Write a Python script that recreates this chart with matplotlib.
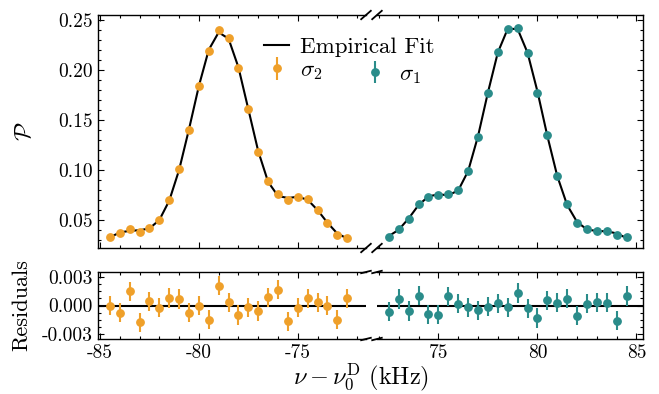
import numpy as np
import matplotlib
matplotlib.use("Agg")
import matplotlib.pyplot as plt
from matplotlib.ticker import MultipleLocator, FormatStrFormatter

plt.rcParams['font.family'] = 'serif'
plt.rcParams['font.serif'] = ['cmr10']
plt.rcParams['mathtext.fontset'] = 'cm'
plt.rcParams['axes.unicode_minus'] = False
plt.rcParams['axes.formatter.use_mathtext'] = True

# ---- data ----
freq_neg = [-84.5, -84.0, -83.5, -83.0, -82.5, -82.0, -81.5, -81.0, -80.5, -80.0,
            -79.5, -79.0, -78.5, -78.0, -77.5, -77.0, -76.5, -76.0, -75.5, -75.0,
            -74.5, -74.0, -73.5, -73.0, -72.5]
p_sigma2 = [0.0327, 0.0367, 0.0407, 0.0380, 0.0420, 0.0497, 0.0700, 0.1007, 0.1400, 0.1840,
            0.2187, 0.2397, 0.2317, 0.2017, 0.1607, 0.1183, 0.0890, 0.0757, 0.0703, 0.0730,
            0.0710, 0.0603, 0.0473, 0.0350, 0.0323]
res_sigma2 = [0.0000, -0.00075, 0.00147, -0.00174, 0.00044, -0.00024, 0.00078, 0.00068, -0.00075, 0.0000,
              -0.0015, 0.00205, 0.00034, -0.00099, -0.00017, -0.00058, 0.00085, 0.00164, -0.00167, -0.00024,
              0.00075, 0.00034, 0.0000, -0.00147, 0.00075]

freq_pos = [72.5, 73.0, 73.5, 74.0, 74.5, 75.0, 75.5, 76.0, 76.5, 77.0,
            77.5, 78.0, 78.5, 79.0, 79.5, 80.0, 80.5, 81.0, 81.5, 82.0,
            82.5, 83.0, 83.5, 84.0, 84.5]
p_sigma1 = [0.0333, 0.0410, 0.0510, 0.0660, 0.0727, 0.0747, 0.0757, 0.0797, 0.0987, 0.1333,
            0.1773, 0.2177, 0.2410, 0.2423, 0.2170, 0.1773, 0.1347, 0.0943, 0.0657, 0.0470,
            0.0407, 0.0393, 0.0390, 0.0350, 0.0330]
res_sigma1 = [-0.00065, 0.00068, -0.00058, 0.00102, -0.00092, -0.00095, 0.00095, 0.00017, -0.00017, -0.00051,
              -0.00014, 0.00024, -0.0002, 0.0013, -0.00031, -0.0013, 0.00055, 0.00027, 0.00072, -0.00106,
              0.00017, 0.00034, 0.00027, -0.0016, 0.00099]
err = 0.001

fit_sigma2 = np.array(p_sigma2) - np.array(res_sigma2)
fit_sigma1 = np.array(p_sigma1) - np.array(res_sigma1)

c_orange = '#EFA02A'
c_teal = '#2A8C8A'

W, H = 659, 394
fig = plt.figure(figsize=(W / 100, H / 100), dpi=100)

def rect(x0, x1, y0, y1):
    return [x0 / W, 1 - y1 / H, (x1 - x0) / W, (y1 - y0) / H]

axTL = fig.add_axes(rect(98, 366, 15, 248))
axTR = fig.add_axes(rect(377, 643, 15, 248))
axBL = fig.add_axes(rect(98, 366, 272, 339))
axBR = fig.add_axes(rect(377, 643, 272, 339))

ms = 5.3
ekw = dict(fmt='o', ms=ms, elinewidth=1.5, capsize=0, zorder=3)

lfit, = axTL.plot(freq_neg, fit_sigma2, color='k', lw=1.5, zorder=2)
axTR.plot(freq_pos, fit_sigma1, color='k', lw=1.5, zorder=2)
e2 = axTL.errorbar(freq_neg, p_sigma2, yerr=err, color=c_orange, **ekw)
e1 = axTR.errorbar(freq_pos, p_sigma1, yerr=err, color=c_teal, **ekw)

axBL.axhline(0, color='k', lw=1.5, zorder=2)
axBR.axhline(0, color='k', lw=1.5, zorder=2)
axBL.errorbar(freq_neg, res_sigma2, yerr=err, color=c_orange, **ekw)
axBR.errorbar(freq_pos, res_sigma1, yerr=err, color=c_teal, **ekw)

xl_left = (-85.1, -71.55)
xl_right = (71.9, 85.33)
for ax in (axTL, axBL):
    ax.set_xlim(*xl_left)
for ax in (axTR, axBR):
    ax.set_xlim(*xl_right)
for ax in (axTL, axTR):
    ax.set_ylim(0.022, 0.255)
    ax.yaxis.set_major_locator(MultipleLocator(0.05))
    ax.yaxis.set_minor_locator(MultipleLocator(0.01))
    ax.yaxis.set_major_formatter(FormatStrFormatter('%.2f'))
    ax.tick_params(labelbottom=False)
for ax in (axBL, axBR):
    ax.set_ylim(-0.0035, 0.0035)
    ax.yaxis.set_major_locator(MultipleLocator(0.003))
    ax.yaxis.set_minor_locator(MultipleLocator(0.00075))
    ax.yaxis.set_major_formatter(FormatStrFormatter('%.3f'))
    ax.xaxis.set_major_formatter(FormatStrFormatter('%d'))

for ax in (axTL, axTR, axBL, axBR):
    ax.xaxis.set_major_locator(MultipleLocator(5))
    ax.xaxis.set_minor_locator(MultipleLocator(1))
    ax.tick_params(which='both', direction='in', top=True, labelsize=14, pad=4)
    ax.tick_params(which='major', length=4.5, width=0.8)
    ax.tick_params(which='minor', length=2.5, width=0.8)
    for s in ax.spines.values():
        s.set_linewidth(1.0)

for ax in (axTL, axBL):
    ax.spines['right'].set_visible(False)
    ax.tick_params(which='both', left=True, right=False)
for ax in (axTR, axBR):
    ax.spines['left'].set_visible(False)
    ax.tick_params(which='both', left=False, right=True, labelleft=False, labelright=False)

# break marks (drawn in axes coordinates)
d = 0.018
bkw = dict(color='k', lw=1.3, clip_on=False)
for ax in (axTL, axBL):
    ax.plot((1 - d, 1 + d), (-d, d), transform=ax.transAxes, **bkw)
    ax.plot((1 - d, 1 + d), (1 - d, 1 + d), transform=ax.transAxes, **bkw)
for ax in (axTR, axBR):
    ax.plot((-d, d), (-d, d), transform=ax.transAxes, **bkw)
    ax.plot((-d, d), (1 - d, 1 + d), transform=ax.transAxes, **bkw)

axTL.set_ylabel(r'$\mathcal{P}$', fontsize=17)
axTL.yaxis.set_label_coords((36 - 98) / 268, 0.5)
axBL.set_ylabel('Residuals', fontsize=16)
axBL.yaxis.set_label_coords((31 - 98) / 268, 0.5)

fig.text(361 / W, 1 - 377 / H, r'$\nu - \nu_0^{\mathrm{D}}$ (kHz)', fontsize=17.5,
         ha='center', va='center')

leg1 = fig.legend([lfit, e2], ['Empirical Fit', r'$\sigma_2$'], loc='upper left',
                  bbox_to_anchor=(264 / W, 1 - 37 / H), frameon=False, fontsize=16.5,
                  handlelength=1.1, handletextpad=0.45, labelspacing=0.15,
                  borderpad=0, borderaxespad=0)
leg2 = fig.legend([e1], [r'$\sigma_1$'], loc='upper left',
                  bbox_to_anchor=(362 / W, 1 - 64 / H), frameon=False, fontsize=16.5,
                  handlelength=1.1, handletextpad=0.52,
                  borderpad=0, borderaxespad=0)

fig.savefig('out.png', dpi=100)
